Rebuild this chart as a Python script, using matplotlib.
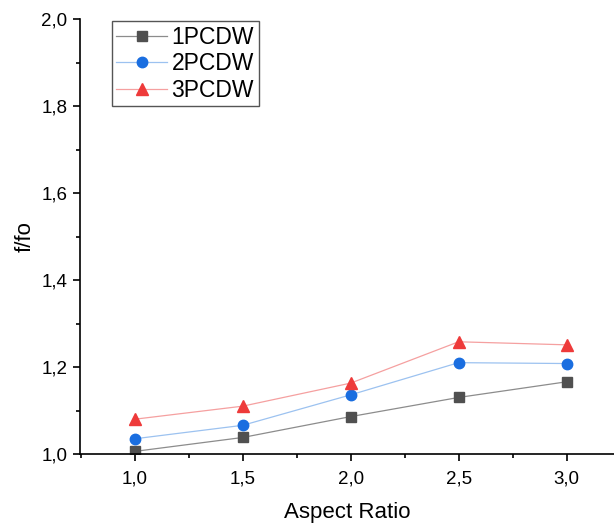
import matplotlib.pyplot as plt
from matplotlib.ticker import MultipleLocator, FuncFormatter

plt.rcParams['font.family'] = ['Liberation Sans', 'DejaVu Sans']

aspect_ratio = [1.0, 1.5, 2.0, 2.5, 3.0]
pcdw1 = [1.006, 1.038, 1.086, 1.130, 1.166]
pcdw2 = [1.035, 1.066, 1.136, 1.210, 1.208]
pcdw3 = [1.080, 1.110, 1.163, 1.258, 1.251]

fig = plt.figure(figsize=(6.14, 5.24), dpi=100)
ax = fig.add_axes([0.130, 0.1336, 0.870, 0.830])

ax.plot(aspect_ratio, pcdw1, color='#8c8c8c', lw=0.9, marker='s', ms=6.5,
        mfc='#505050', mec='#505050', label='1PCDW')
ax.plot(aspect_ratio, pcdw2, color='#9cc2f0', lw=0.9, marker='o', ms=7.5,
        mfc='#1a6ee0', mec='#1a6ee0', label='2PCDW')
ax.plot(aspect_ratio, pcdw3, color='#f5a0a0', lw=0.9, marker='^', ms=8,
        mfc='#ee3a3a', mec='#ee3a3a', label='3PCDW')

ax.set_xlim(0.745, 3.22)
ax.set_ylim(1.0, 2.0)
ax.xaxis.set_major_locator(MultipleLocator(0.5))
ax.xaxis.set_minor_locator(MultipleLocator(0.25))
ax.yaxis.set_major_locator(MultipleLocator(0.2))
ax.yaxis.set_minor_locator(MultipleLocator(0.1))
comma = FuncFormatter(lambda v, p: f'{v:.1f}'.replace('.', ','))
ax.xaxis.set_major_formatter(comma)
ax.yaxis.set_major_formatter(comma)

for s in ['top', 'right']:
    ax.spines[s].set_visible(False)
for s in ['left', 'bottom']:
    ax.spines[s].set_linewidth(1.2)
ax.tick_params(which='major', direction='out', length=5, width=1.2, labelsize=13.5)
ax.tick_params(axis='x', which='major', pad=7)
ax.tick_params(axis='y', which='major', pad=4)
ax.tick_params(which='minor', direction='out', length=3, width=1.2)

ax.set_xlabel('Aspect Ratio', fontsize=16, labelpad=10)
ax.set_ylabel('f/fo', fontsize=16, labelpad=4)

ax.legend(loc='upper left', bbox_to_anchor=(0.06, 0.995), fontsize=16.5,
          frameon=True, fancybox=False, edgecolor='#555555', framealpha=1,
          handlelength=2.2, borderpad=0.2, labelspacing=0.15, handletextpad=0.2,
          borderaxespad=0)

fig.savefig('out.png', dpi=100)
